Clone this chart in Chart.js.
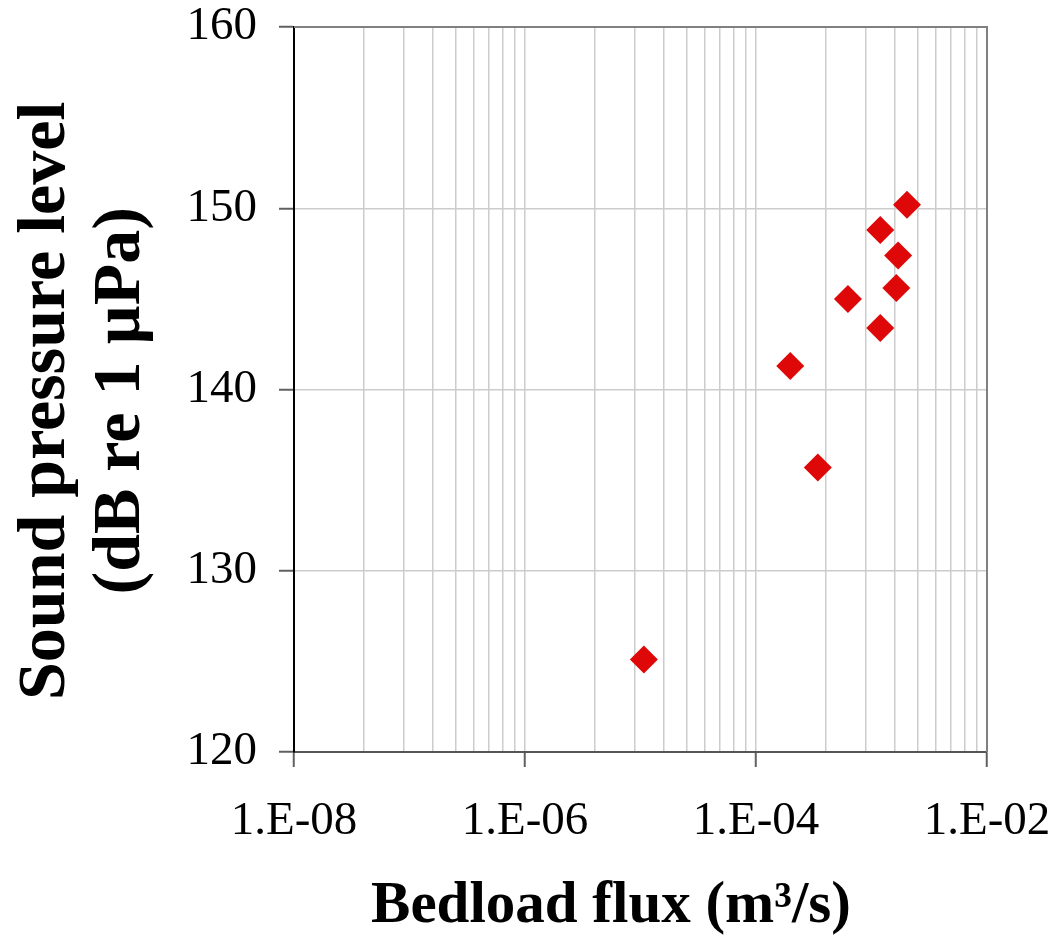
<!DOCTYPE html>
<html>
<head>
<meta charset="utf-8">
<script src="https://cdn.jsdelivr.net/npm/chart.js@4"></script>
<style>
  html, body { margin: 0; padding: 0; background: #fff; }
  #wrap { width: 1057px; height: 944px; }
</style>
</head>
<body>
<div id="wrap"><canvas id="myChart"></canvas></div>
<script>
// 読み取った値
const flux = [1.07e-5, 1.98e-4, 3.43e-4, 6.25e-4, 1.19e-3, 1.19e-3, 1.64e-3, 1.70e-3, 2.03e-3];
const spl = [125.1, 141.3, 135.7, 145.0, 143.4, 148.8, 145.6, 147.4, 150.2];
const xDecades = [-8, -6, -4, -2];   // labelled ticks (log base 100 style)
const yTicks = [120, 130, 140, 150, 160];
const xTitle = "Bedload flux (m³/s)";
const yTitle = ["Sound pressure level", "(dB re 1 µPa)"];

const points = flux.map((v, i) => ({x: v, y: spl[i]}));

// minor grid like the original: n^2 steps inside each two-decade block
const buildXTicks = () => {
  let out = [];
  for (let i = 0; i < xDecades.length - 1; i++) {
    for (let n = 1; n <= 9; n++) {
      out.push({value: n * n * Math.pow(10, xDecades[i]), major: n == 1});
    }
  }
  out.push({value: Math.pow(10, xDecades[xDecades.length - 1]), major: true});
  return out;
}

const fmtExp = (v) => {
  let e = Math.round(Math.log10(v));
  let s = String(Math.abs(e)).padStart(2, "0");
  return "1.E" + (e < 0 ? "-" : "+") + s;
}

// 外枠 (top / right)
const framePlugin = {
  id: "frame",
  afterDraw(chart) {
    const {ctx, chartArea: a} = chart;
    ctx.save();
    ctx.strokeStyle = "#808080";
    ctx.lineWidth = 2;
    ctx.beginPath();
    ctx.moveTo(a.left, a.top);
    ctx.lineTo(a.right, a.top);
    ctx.lineTo(a.right, a.bottom);
    ctx.stroke();
    ctx.restore();
  }
}

const tickFont = {family: "Liberation Serif", size: 47};

const config = {
  type: "scatter",
  data: {
    datasets: [{
      data: points,
      pointStyle: "rectRot",
      pointRadius: 14,
      pointHoverRadius: 14,
      backgroundColor: "rgb(222,8,8)",
      borderColor: "rgb(222,8,8)",
      borderWidth: 0
    }]
  },
  options: {
    responsive: true,
    maintainAspectRatio: false,
    animation: false,
    layout: {padding: {top: 27, right: 70, left: 0, bottom: 0}},
    plugins: {legend: {display: false}, tooltip: {enabled: false}},
    scales: {
      x: {
        type: "logarithmic",
        min: 1e-8,
        max: 1e-2,
        afterBuildTicks: (scale) => { scale.ticks = buildXTicks(); },
        afterFit: (scale) => {
          scale.height = 192;
          scale.paddingLeft = 0;
          scale.paddingRight = 0;
        },
        ticks: {
          autoSkip: false,
          maxRotation: 0,
          padding: 26,
          color: "#000",
          font: tickFont,
          callback: (value, index, ticks) => ticks[index].major ? fmtExp(value) : ""
        },
        grid: {
          color: "#cccccc",
          lineWidth: 1.5,
          tickLength: 15,
          tickColor: (ctx) => (ctx.tick && ctx.tick.major) ? "#606060" : "rgba(0,0,0,0)",
          tickWidth: 2
        },
        border: {color: "#555555", width: 2},
        title: {
          display: true,
          // trailing en spaces nudge the centred title a bit to the left, as in the original
          text: xTitle + "\u2002\u2002",
          color: "#000",
          font: {family: "Liberation Serif", size: 59, weight: "bold", lineHeight: 1.2},
          padding: {top: 0, bottom: 2}
        }
      },
      y: {
        type: "linear",
        min: yTicks[0],
        max: yTicks[yTicks.length - 1],
        afterBuildTicks: (scale) => { scale.ticks = yTicks.map(v => ({value: v})); },
        afterFit: (scale) => {
          scale.width = 294;
          scale.paddingTop = 0;
          scale.paddingBottom = 0;
        },
        ticks: {
          padding: 22,
          color: "#000",
          font: tickFont
        },
        grid: {
          color: "#cccccc",
          lineWidth: 1.5,
          tickLength: 15,
          tickColor: "#606060",
          tickWidth: 2
        },
        border: {color: "#000000", width: 2},
        title: {
          display: true,
          text: yTitle.map(t => t + "\u2004"),
          color: "#000",
          font: {family: "Liberation Serif", size: 68, weight: "bold", lineHeight: 1.1},
          padding: {top: 9, bottom: 0}
        }
      }
    }
  },
  plugins: [framePlugin]
};

const myChart = new Chart(document.getElementById("myChart"), config);
</script>
</body>
</html>
